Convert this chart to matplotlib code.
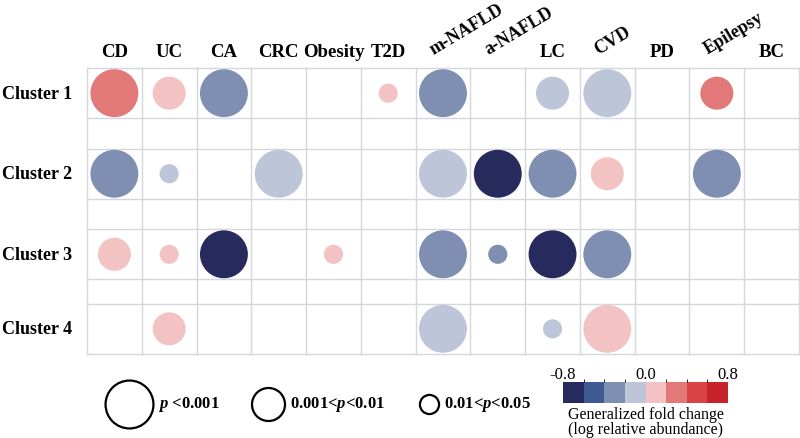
#!/usr/bin/env python3

import numpy as np
import matplotlib
matplotlib.use('Agg')
import matplotlib.pyplot as plt
from matplotlib.cm import ScalarMappable
from matplotlib.colors import ListedColormap, BoundaryNorm


diseases = ['CD', 'UC', 'CA', 'CRC', 'Obesity', 'T2D', 'm-NAFLD', 'a-NAFLD',
            'LC', 'CVD', 'PD', 'Epilepsy', 'BC']
rotated = ['m-NAFLD', 'a-NAFLD', 'CVD', 'Epilepsy']
clusters = ['Cluster 1', 'Cluster 2', 'Cluster 3', 'Cluster 4']

# significance level: 0 = n.s., 1 = p<0.05, 2 = p<0.01, 3 = p<0.001
cluster1_sig = [3, 2, 3, 0, 0, 1, 3, 0, 2, 3, 0, 2, 0]
cluster2_sig = [3, 1, 0, 3, 0, 0, 3, 3, 3, 2, 0, 3, 0]
cluster3_sig = [2, 1, 3, 0, 1, 0, 3, 1, 3, 3, 0, 0, 0]
cluster4_sig = [0, 2, 0, 0, 0, 0, 3, 0, 1, 3, 0, 0, 0]

# generalized fold change (log relative abundance), NaN = not shown
nan = np.nan
cluster1_fc = [0.3, 0.1, -0.3, nan, nan, 0.1, -0.3, nan, -0.1, -0.1, nan, 0.3, nan]
cluster2_fc = [-0.3, -0.1, nan, -0.1, nan, nan, -0.1, -0.7, -0.3, 0.1, nan, -0.3, nan]
cluster3_fc = [0.1, 0.1, -0.7, nan, 0.1, nan, -0.3, -0.3, -0.7, -0.3, nan, nan, nan]
cluster4_fc = [nan, 0.1, nan, nan, nan, nan, -0.1, nan, -0.1, 0.1, nan, nan, nan]

sig_labels = ['0.01<$p$<0.05', '0.001<$p$<0.01', '$p$ <0.001']
cmap_colors = ['#262a5c', '#3e5a90', '#7f8fb2', '#bdc5d9',
               '#f3c3c3', '#e27878', '#da4244', '#c8232b']
cmap_bounds = [-0.8, -0.6, -0.4, -0.2, 0.0, 0.2, 0.4, 0.6, 0.8]
cbar_ticks = [-0.8, 0.0, 0.8]
cbar_ticklabels = ['-0.8', '0.0', '0.8']

SIZES = {1: 190, 2: 565, 3: 1190}
ROW_HEIGHTS = [1, 0.6, 1, 0.6, 1, 0.48, 1]
GRID_COLOR = '#d6d6dd'


def setup_fonts():
    plt.rcParams['font.family'] = ['Liberation Serif', 'DejaVu Serif']
    plt.rcParams['mathtext.fontset'] = 'custom'
    plt.rcParams['mathtext.it'] = 'Liberation Serif:italic:bold'
    plt.rcParams['mathtext.rm'] = 'Liberation Serif:bold'


def plot_grid(fig, cmap, norm):
    ax = fig.add_axes([87 / 800, 84 / 439, 712 / 800, 286 / 439])
    edges = np.concatenate([[0], np.cumsum(ROW_HEIGHTS)])
    total = edges[-1]
    ax.set_xlim(0, len(diseases))
    ax.set_ylim(total, 0)
    ax.axis('off')

    for x in range(len(diseases) + 1):
        ax.plot([x, x], [0, total], color=GRID_COLOR, lw=1, clip_on=False, zorder=1)
    for y in edges:
        ax.plot([0, len(diseases)], [y, y], color=GRID_COLOR, lw=1, clip_on=False, zorder=1)

    sigs = [cluster1_sig, cluster2_sig, cluster3_sig, cluster4_sig]
    fcs = [cluster1_fc, cluster2_fc, cluster3_fc, cluster4_fc]
    row_centers = [(edges[2 * i] + edges[2 * i + 1]) / 2 for i in range(len(clusters))]

    for yc, name, sig, fc in zip(row_centers, clusters, sigs, fcs):
        xs, ss, cs = [], [], []
        for j, (s, v) in enumerate(zip(sig, fc)):
            if s == 0 or np.isnan(v):
                continue
            xs.append(j + 0.5)
            ss.append(SIZES[s])
            cs.append(v)
        ax.scatter(xs, [yc] * len(xs), s=ss, c=cs, cmap=cmap, norm=norm,
                   linewidths=0, zorder=3, clip_on=False)
        ax.text(-0.27, yc, name, ha='right', va='center', fontsize=13,
                fontweight='bold')

    for j, d in enumerate(diseases):
        if d in rotated:
            ax.text(j + 0.33, -0.28, d, ha='left', va='baseline', rotation=31,
                    rotation_mode='anchor', fontsize=13, fontweight='bold')
        else:
            ax.text(j + 0.5, -0.24, d, ha='center', va='baseline',
                    fontsize=13.5, fontweight='bold')
    return ax


def plot_size_legend(fig):
    lax = fig.add_axes([0, 0, 1, 1], facecolor='none')
    lax.set_xlim(0, 800)
    lax.set_ylim(439, 0)
    lax.axis('off')
    centers = [429, 268, 129]
    radii = [10.5, 16.5, 24]
    for level, (cx, r, label) in enumerate(zip(centers, radii, sig_labels), start=1):
        lax.scatter([cx], [405], s=SIZES[level], facecolors='white',
                    edgecolors='black', linewidths=1.6)
        lax.text(cx + r + 5, 405, label, ha='left', va='center',
                 fontsize=12, fontweight='bold')


def plot_colorbar(fig, cmap, norm):
    cax = fig.add_axes([563 / 800, 35 / 439, 165 / 800, 21 / 439])
    cb = fig.colorbar(ScalarMappable(norm=norm, cmap=cmap), cax=cax,
                      orientation='horizontal', ticks=cbar_ticks)
    cb.outline.set_visible(False)
    cax.xaxis.set_ticks_position('top')
    cax.tick_params(length=0, pad=0, labelsize=12)
    cax.set_xticklabels(cbar_ticklabels)
    cax.text(0.5, -0.15, 'Generalized fold change\n(log relative abundance)',
             transform=cax.transAxes, ha='center', va='top', fontsize=11.5,
             linespacing=0.88)


def main():
    setup_fonts()
    cmap = ListedColormap(cmap_colors)
    norm = BoundaryNorm(cmap_bounds, cmap.N)

    fig = plt.figure(figsize=(8, 4.39), dpi=100)
    plot_grid(fig, cmap, norm)
    plot_size_legend(fig)
    plot_colorbar(fig, cmap, norm)
    fig.savefig('out.png', dpi=100)
    plt.close(fig)


if __name__ == '__main__':
    main()
